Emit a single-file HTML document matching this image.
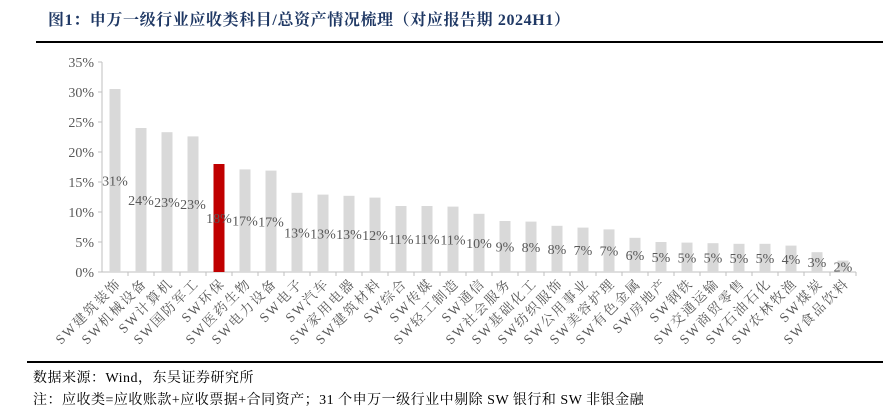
<!DOCTYPE html>
<html><head><meta charset="utf-8"><style>
body{margin:0;width:883px;height:404px;overflow:hidden;background:#fff;font-family:"Liberation Serif","Noto Serif CJK SC",serif;}
#wrap{position:relative;width:883px;height:404px;}
.title{position:absolute;left:48px;top:7px;font-size:16px;font-weight:bold;color:#1f3864;white-space:nowrap;letter-spacing:0.6px;}
.rule{position:absolute;height:2px;background:#000;}
.src{position:absolute;left:33px;font-size:14px;color:#000;white-space:nowrap;letter-spacing:0.5px;}
</style></head><body>
<div id="wrap">
<div class="title">图1：申万一级行业应收类科目/总资产情况梳理（对应报告期 2024H1）</div>
<div class="rule" style="left:36px;top:41px;width:847px"></div>
<svg id="chart" width="883" height="404" style="position:absolute;left:0;top:0"></svg>
<div class="rule" style="left:27px;top:361px;width:856px;height:1.5px"></div>
<div class="src" style="top:367px">数据来源：Wind，东吴证券研究所</div>
<div class="src" style="top:389px">注：应收类=应收账款+应收票据+合同资产；31 个申万一级行业中剔除 SW 银行和 SW 非银金融</div>
</div>
<script>
const categories=["SW建筑装饰","SW机械设备","SW计算机","SW国防军工","SW环保","SW医药生物","SW电力设备","SW电子","SW汽车","SW家用电器","SW建筑材料","SW综合","SW传媒","SW轻工制造","SW通信","SW社会服务","SW基础化工","SW纺织服饰","SW公用事业","SW美容护理","SW有色金属","SW房地产","SW钢铁","SW交通运输","SW商贸零售","SW石油石化","SW农林牧渔","SW煤炭","SW食品饮料"];
const values=[30.5,24.0,23.3,22.6,18.0,17.1,16.9,13.2,12.9,12.7,12.4,11.0,11.0,10.9,9.7,8.5,8.4,7.7,7.4,7.1,5.7,5.0,4.9,4.8,4.7,4.7,4.4,3.3,1.9];
const valueLabels=["31%","24%","23%","23%","18%","17%","17%","13%","13%","13%","12%","11%","11%","11%","10%","9%","8%","8%","7%","7%","6%","5%","5%","5%","5%","5%","4%","3%","2%"];
const yTicks=[0,5,10,15,20,25,30,35];
const highlight="SW环保";
const NS="http://www.w3.org/2000/svg";
const svg=document.getElementById('chart');
const x0=102,band=26,yBase=272,pxPer=6;
const xC=i=>x0+band*(i+0.5);
const yS=v=>yBase-v*pxPer;
function mk(t,a){const e=document.createElementNS(NS,t);for(const k in a)e.setAttribute(k,a[k]);svg.appendChild(e);return e;}
const ax=mk('line',{x1:x0,y1:yS(0),x2:x0,y2:yS(35),stroke:'#bfbfbf'});


yTicks.forEach(t=>{
 const tl=mk('line',{x1:x0-4,y1:yS(t),x2:x0,y2:yS(t),stroke:'#bfbfbf'});
 
 
 const tx=mk('text',{x:x0-8,y:yS(t)+5,'text-anchor':'end','font-size':'14','fill':'#595959','font-family':'Liberation Serif, serif'});
 tx.textContent=t+'%';
 
 
});
const xa=mk('line',{x1:x0,y1:yBase,x2:x0+band*categories.length,y2:yBase,stroke:'#bfbfbf'});


categories.forEach((c,i)=>{
 const tk=mk('line',{x1:x0+band*(i+1),y1:yBase,x2:x0+band*(i+1),y2:yBase+4,stroke:'#bfbfbf'});
 
 
 const v=values[i];
 const b=mk('rect',{x:xC(i)-5.5,y:yS(v),width:11,height:v*pxPer,fill:c===highlight?'#c00000':'#d9d9d9'});
 
 
 const l=mk('text',{x:xC(i),y:yS(v/2)+5,'text-anchor':'middle','font-size':'14','fill':'#595959','font-family':'Liberation Serif, serif'});
 l.textContent=valueLabels[i];
 
 
 const cx=xC(i)+7,cy=yBase+12;
 const cl=mk('text',{x:cx,y:cy,'text-anchor':'end','font-size':'13.5','fill':'#595959','letter-spacing':'2','font-family':'Liberation Serif, Noto Serif CJK SC, serif',transform:`rotate(-45 ${cx} ${cy})`});
 cl.textContent=c;
 
 
});
</script>
</body></html>
